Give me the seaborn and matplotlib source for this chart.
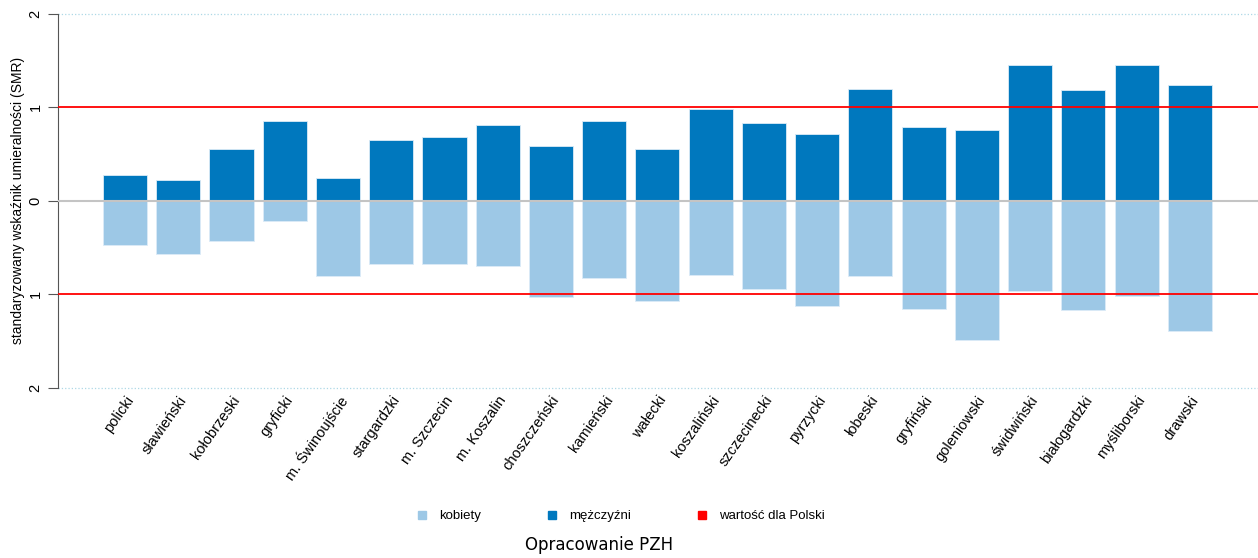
import pandas as pd
import matplotlib
matplotlib.use('Agg')
import matplotlib.pyplot as plt
import seaborn as sns
from matplotlib.lines import Line2D

# powiaty (districts) in order shown
powiaty = ['policki', 'sławieński', 'kołobrzeski', 'gryficki', 'm. Świnoujście',
           'stargardzki', 'm. Szczecin', 'm. Koszalin', 'choszczeński', 'kamieński',
           'wałecki', 'koszaliński', 'szczecinecki', 'pyrzycki', 'łobeski',
           'gryfiński', 'goleniowski', 'świdwiński', 'białogardzki', 'myśliborski',
           'drawski']

# SMR values
mezczyzni = [0.28, 0.22, 0.55, 0.86, 0.25, 0.65, 0.68, 0.81, 0.59, 0.86,
             0.56, 0.98, 0.83, 0.72, 1.20, 0.79, 0.76, 1.45, 1.19, 1.45, 1.24]
kobiety = [0.47, 0.57, 0.43, 0.21, 0.80, 0.67, 0.67, 0.70, 1.03, 0.82,
           1.07, 0.79, 0.94, 1.13, 0.80, 1.16, 1.49, 0.96, 1.17, 1.02, 1.39]
polska = 1.0

yticks = [2, 1, 0, -1, -2]

df = pd.DataFrame({'powiat': powiaty, 'M': mezczyzni, 'K': kobiety})
df['K_neg'] = -df['K']

c_m = '#0078BE'
c_k = '#9DC8E6'

plt.rcParams['font.family'] = ['Liberation Sans', 'DejaVu Sans']

fig = plt.figure(figsize=(12.58, 5.58), dpi=100)
ax = fig.add_axes([0.046, 0.305, 0.954, 0.670])

sns.barplot(data=df, x='powiat', y='M', color=c_m, saturation=1, width=0.83,
            edgecolor='#DCEBF7', linewidth=0.6, ax=ax)
sns.barplot(data=df, x='powiat', y='K_neg', color=c_k, saturation=1, width=0.83,
            edgecolor='#DCEBF7', linewidth=0.6, ax=ax)

# reference lines
ax.axhline(0, color='#C4C4C4', lw=1.5, zorder=3)
ax.axhline(polska, color='red', lw=1.3, zorder=4)
ax.axhline(-polska, color='red', lw=1.3, zorder=4)
ax.axhline(2, color='#ADD8E6', lw=0.9, ls=':', zorder=1, clip_on=False)
ax.axhline(-2, color='#ADD8E6', lw=0.9, ls=':', zorder=1, clip_on=False)

ax.set_xlim(-1.26, len(powiaty) - 1 + 1.28)
ax.set_ylim(-2.0, 2.0)
ax.set_yticks(yticks)
ax.set_yticklabels([str(abs(v)) for v in yticks], rotation=90, va='center', fontsize=10.5)
ax.set_xlabel('')
ax.set_ylabel('standaryzowany wskaźnik umieralności (SMR)', fontsize=10)
ax.yaxis.set_label_coords(-0.027, 0.5)
ax.set_xticks(range(len(powiaty)))
ax.set_xticklabels(powiaty, rotation=55, ha='right', rotation_mode='anchor', fontsize=10.5)
ax.tick_params(axis='x', length=0, pad=4)
ax.tick_params(axis='y', length=7, color='#555555', pad=4)

for s in ['top', 'right', 'bottom']:
    ax.spines[s].set_visible(False)
ax.spines['left'].set_color('#555555')
ax.spines['left'].set_bounds(-2, 2)

handles = [Line2D([], [], marker='s', ls='', color=c_k, markersize=6, label='kobiety'),
           Line2D([], [], marker='s', ls='', color=c_m, markersize=6, label='mężczyźni'),
           Line2D([], [], marker='s', ls='', color='red', markersize=6, label='wartość dla Polski')]
fig.legend(handles=handles, loc='center', bbox_to_anchor=(0.493, 0.075), ncol=3,
           frameon=False, fontsize=9.5, handlelength=1, handletextpad=0.8,
           columnspacing=4.9)

fig.text(0.476, 0.024, 'Opracowanie PZH', ha='center', va='center', fontsize=12,
         family='DejaVu Sans')

fig.savefig('out.png', dpi=100)
